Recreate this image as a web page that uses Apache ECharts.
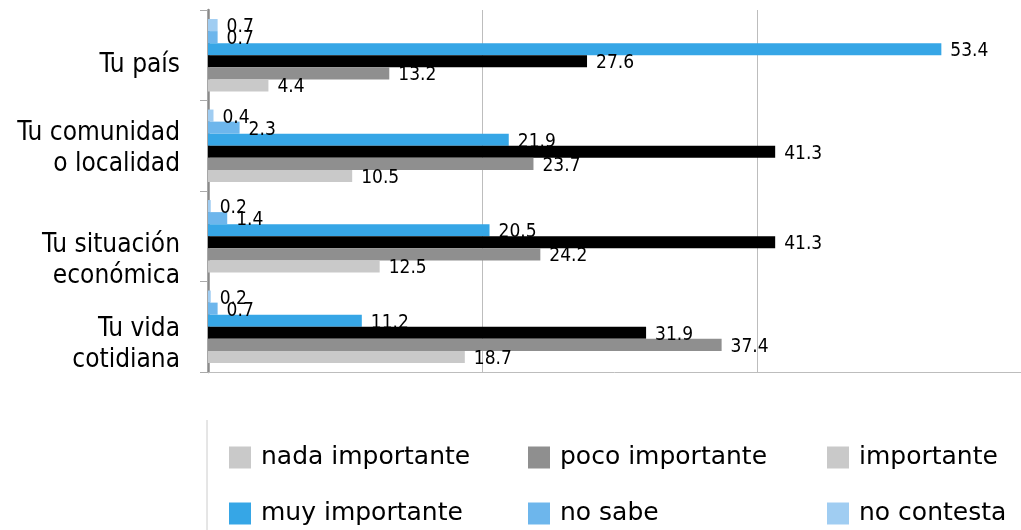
<!DOCTYPE html>
<html>
<head>
<meta charset="utf-8">
<script src="https://cdn.jsdelivr.net/npm/echarts@6/dist/echarts.min.js"></script>
<style>
html,body{margin:0;padding:0;background:#fff;}
#c{width:1021px;height:530px;}
</style>
</head>
<body>
<div id="c"></div>
<script>
// Categories, bottom to top (ECharts category y axis starts at the bottom)
const categories = ['Tu vida\ncotidiana', 'Tu situación\neconómica', 'Tu comunidad\no localidad', 'Tu país'];
const seriesNames = ['nada importante', 'poco importante', 'importante', 'muy importante', 'no sabe', 'no contesta'];
const nadaImportante = [18.7, 12.5, 10.5, 4.4];
const pocoImportante = [37.4, 24.2, 23.7, 13.2];
const importante = [31.9, 41.3, 41.3, 27.6];
const muyImportante = [11.2, 20.5, 21.9, 53.4];
const noSabe = [0.7, 1.4, 2.3, 0.7];
const noContesta = [0.2, 0.2, 0.4, 0.7];
const xTicks = [0, 20, 40];
const xVisibleMax = 59.2; // the axis runs past the right edge of the picture

const colors = {
  'nada importante': '#c9c9c9',
  'poco importante': '#8f8f8f',
  'importante': '#000000',
  'muy importante': '#36a6e6',
  'no sabe': '#6db6ec',
  'no contesta': '#a0cdf2'
};
const dataByName = {
  'nada importante': nadaImportante,
  'poco importante': pocoImportante,
  'importante': importante,
  'muy importante': muyImportante,
  'no sabe': noSabe,
  'no contesta': noContesta
};

// label vertical shifts per category (bottom to top), as spacer line heights
const labelShift = [36, 48, 6, 20];

const chart = echarts.init(document.getElementById('c'));

// draw order: top of group first
const drawOrder = ['no contesta', 'no sabe', 'muy importante', 'importante', 'poco importante', 'nada importante'];

const series = drawOrder.map(name => ({
  name: name,
  type: 'bar',
  data: dataByName[name],
  barGap: '0%',
  barCategoryGap: '20%',
  itemStyle: { color: colors[name] },
  label: {
    show: true,
    position: 'right',
    distance: 9,
    offset: [0, 2],
    color: '#000',
    fontFamily: 'DejaVu Sans Condensed',
    fontSize: 19
  },
  emphasis: { disabled: true }
}));

const legendBase = {
  orient: 'vertical',
  top: 445,
  height: 120,
  padding: 0,
  itemWidth: 22,
  itemHeight: 22,
  itemGap: 31,
  icon: 'rect',
  selectedMode: false,
  textStyle: {
    fontFamily: 'DejaVu Sans',
    fontSize: 25,
    color: '#000',
    lineHeight: 22,
    padding: [0, 0, 0, 5]
  }
};

const option = {
  backgroundColor: '#fff',
  animation: false,
  grid: { left: 208, top: 10, right: 0, bottom: 158, containLabel: false },
  xAxis: {
    type: 'value',
    min: xTicks[0],
    max: xVisibleMax,
    interval: xTicks[1] - xTicks[0],
    axisLabel: { show: false },
    axisTick: { show: false },
    axisLine: { show: true, lineStyle: { color: '#bdbdbd', width: 1 } },
    splitLine: { show: true, lineStyle: { color: '#bdbdbd', width: 1 } }
  },
  yAxis: {
    type: 'category',
    data: categories,
    axisLine: { show: true, lineStyle: { color: '#8a8a8a', width: 2.5 } },
    axisTick: { show: true, length: 8, lineStyle: { color: '#aaaaaa' } },
    axisLabel: {
      margin: 28,
      align: 'right',
      color: '#000',
      fontFamily: 'DejaVu Sans Condensed',
      fontSize: 26,
      formatter: function (value, index) {
        const lines = value.split('\n').map(l => '{t|' + l + '}').join('\n');
        return '{s' + index + '| }\n' + lines;
      },
      rich: {
        t: { fontFamily: 'DejaVu Sans Condensed', fontSize: 26, lineHeight: 31, color: '#000', align: 'right' },
        s0: { fontSize: 4, lineHeight: labelShift[0] },
        s1: { fontSize: 4, lineHeight: labelShift[1] },
        s2: { fontSize: 4, lineHeight: labelShift[2] },
        s3: { fontSize: 4, lineHeight: labelShift[3] }
      }
    }
  },
  legend: [
    Object.assign({}, legendBase, { left: 229, data: [seriesNames[0], seriesNames[3]] }),
    Object.assign({}, legendBase, { left: 528, data: [seriesNames[1], seriesNames[4]] }),
    Object.assign({}, legendBase, { left: 827, data: [{ name: seriesNames[2], itemStyle: { color: '#c9c9c9' } }, seriesNames[5]] })
  ],
  graphic: [
    {
      type: 'line',
      shape: { x1: 207, y1: 420, x2: 207, y2: 530 },
      style: { stroke: '#cccccc', lineWidth: 1 }
    }
  ],
  series: series
};

chart.setOption(option);
</script>
</body>
</html>
